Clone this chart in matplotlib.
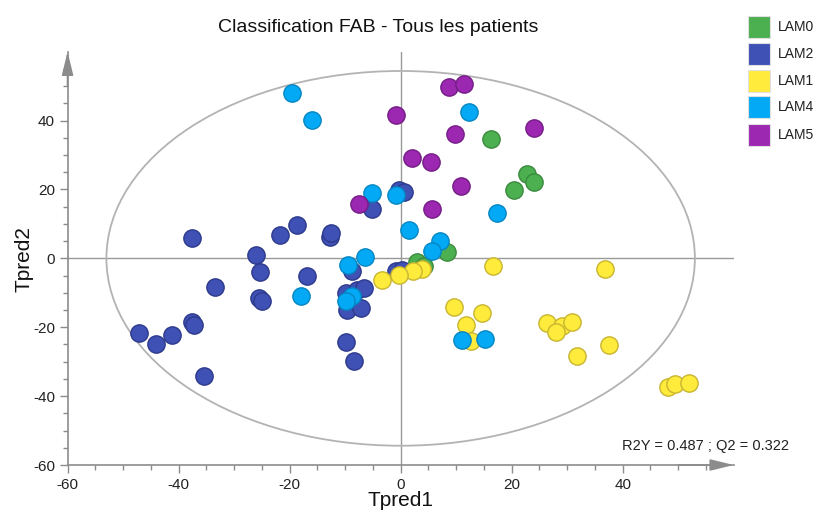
import matplotlib
matplotlib.use('Agg')
import matplotlib.pyplot as plt
from matplotlib.patches import Ellipse, Rectangle

plt.rcParams['font.family'] = ['Liberation Sans', 'DejaVu Sans']
plt.rcParams['axes.unicode_minus'] = False

# Scores (Tpred1, Tpred2) par groupe FAB
lam2_x = [-37.5, -47.1, -44.1, -41.1, -37.5, -37.2, -35.4, -33.5, -26.0, -25.3, -25.6, -24.9,
          -21.7, -18.7, -16.9, -12.8, -12.5, -8.7, -9.9, -7.8, -6.6, -9.6, -7.2, -9.9, -8.4,
          -5.1, -0.3, 0.6, -0.9, 0.3]
lam2_y = [5.9, -21.6, -24.8, -22.3, -18.5, -19.3, -34.2, -8.4, 1.1, -4.0, -11.5, -12.5,
          6.9, 9.8, -5.0, 6.2, 7.3, -3.6, -10.0, -9.1, -8.6, -14.9, -14.4, -24.3, -29.8,
          14.4, 19.9, 19.2, -3.8, -3.3]

lam0_x = [16.2, 22.8, 24.1, 20.5, 8.4, 3.0, 4.2]
lam0_y = [34.7, 24.4, 22.3, 19.9, 1.7, -1.1, -2.3]

lam1_x = [16.7, 36.8, 3.9, 2.3, -0.3, -3.3, 9.6, 14.7, 11.7, 12.7, 26.4, 29.1, 30.8, 27.9,
          31.7, 37.5, 48.2, 49.4, 51.9]
lam1_y = [-2.3, -3.0, -3.0, -3.6, -4.7, -6.2, -14.2, -15.9, -19.4, -24.0, -18.7, -19.7, -18.5,
          -21.4, -28.4, -25.2, -37.4, -36.4, -36.1]

lam4_x = [-19.6, -16.0, 12.4, -5.1, -0.9, 17.4, 1.5, 7.1, 5.7, -6.5, -9.5, -17.9, -8.7, -9.9,
          11.1, 15.2]
lam4_y = [48.1, 40.3, 42.4, 19.1, 18.3, 13.3, 8.3, 4.9, 2.2, 0.3, -1.8, -10.8, -11.0, -12.5,
          -23.8, -23.5]

lam5_x = [8.7, 11.4, -0.8, 9.8, 24.1, 2.0, 5.5, 10.9, -7.5, 5.7]
lam5_y = [49.8, 50.5, 41.6, 36.2, 37.9, 29.2, 28.1, 21.1, 15.8, 14.3]

groupes = ['LAM0', 'LAM2', 'LAM1', 'LAM4', 'LAM5']
couleurs = {'LAM0': '#4CAF50', 'LAM2': '#3F51B5', 'LAM1': '#FFEB3B',
            'LAM4': '#03A9F4', 'LAM5': '#9C27B0'}
bords = {'LAM0': '#3a8a3e', 'LAM2': '#2d3a8c', 'LAM1': '#c8b531',
         'LAM4': '#0386c2', 'LAM5': '#741d86'}

fig = plt.figure(figsize=(8.15, 5.18), dpi=100)
ax = fig.add_axes([0.0829, 0.1023, 0.8174, 0.7979])

gris = '#8c8c8c'
ax.axhline(0, color='#999999', lw=1, zorder=1)
ax.axvline(0, color='#999999', lw=1, zorder=1)
ax.add_patch(Ellipse((0, 0), 2 * 53, 2 * 54.4, fill=False, edgecolor='#b3b3b3', lw=1.3, zorder=1))

donnees = [('LAM2', lam2_x, lam2_y), ('LAM0', lam0_x, lam0_y), ('LAM1', lam1_x, lam1_y),
           ('LAM4', lam4_x, lam4_y), ('LAM5', lam5_x, lam5_y)]
for nom, xs, ys in donnees:
    ax.scatter(xs, ys, s=155, c=couleurs[nom], edgecolors=bords[nom], linewidths=1, zorder=3)

ax.set_xlim(-60, 60)
ax.set_ylim(-60, 60)
for s in ['top', 'right']:
    ax.spines[s].set_visible(False)
for s in ['left', 'bottom']:
    ax.spines[s].set_color(gris)
    ax.spines[s].set_linewidth(1.2)

ax.set_xticks([-60, -40, -20, 0, 20, 40])
ax.set_yticks([-60, -40, -20, 0, 20, 40])
ax.set_xticks([v for v in range(-55, 60, 5) if v % 20 != 0], minor=True)
ax.set_yticks([v for v in range(-55, 60, 5) if v % 20 != 0], minor=True)
ax.tick_params(which='major', length=6, width=1, color=gris, labelsize=11, labelcolor='#222222', pad=3)
ax.tick_params(which='minor', length=3.5, width=1, color=gris)

# fleches des axes
ax.annotate('', xy=(60, -60), xytext=(50, -60),
            arrowprops=dict(arrowstyle='-|>,head_length=0.9,head_width=0.22', color=gris,
                            lw=1.2, shrinkA=0, shrinkB=0, mutation_scale=16), annotation_clip=False)
ax.annotate('', xy=(-60, 60), xytext=(-60, 50),
            arrowprops=dict(arrowstyle='-|>,head_length=0.9,head_width=0.22', color=gris,
                            lw=1.2, shrinkA=0, shrinkB=0, mutation_scale=16), annotation_clip=False)

fig.text(378 / 815, 1 - 27 / 518, 'Classification FAB - Tous les patients', fontsize=14,
         ha='center', va='center', color='#111111')
fig.text(400 / 815, 1 - 500 / 518, 'Tpred1', fontsize=15, ha='center', va='center', color='#111111')
fig.text(24 / 815, 1 - 259 / 518, 'Tpred2', fontsize=15, ha='center', va='center',
         rotation=90, color='#111111')
fig.text(789 / 815, 1 - 446 / 518, 'R2Y = 0.487 ; Q2 = 0.322', fontsize=10.5,
         ha='right', va='center', color='#222222')

# legende
y_centres = [27, 54, 81, 107, 135]
for nom, yc in zip(groupes, y_centres):
    fig.add_artist(Rectangle((748 / 815, 1 - (yc + 11) / 518), 22 / 815, 22 / 518,
                             transform=fig.transFigure, facecolor=couleurs[nom],
                             edgecolor='#e0e0e0', lw=0.8))
    fig.text(778 / 815, 1 - yc / 518, nom, fontsize=10, ha='left', va='center', color='#222222')

fig.savefig('out.png', dpi=100)
